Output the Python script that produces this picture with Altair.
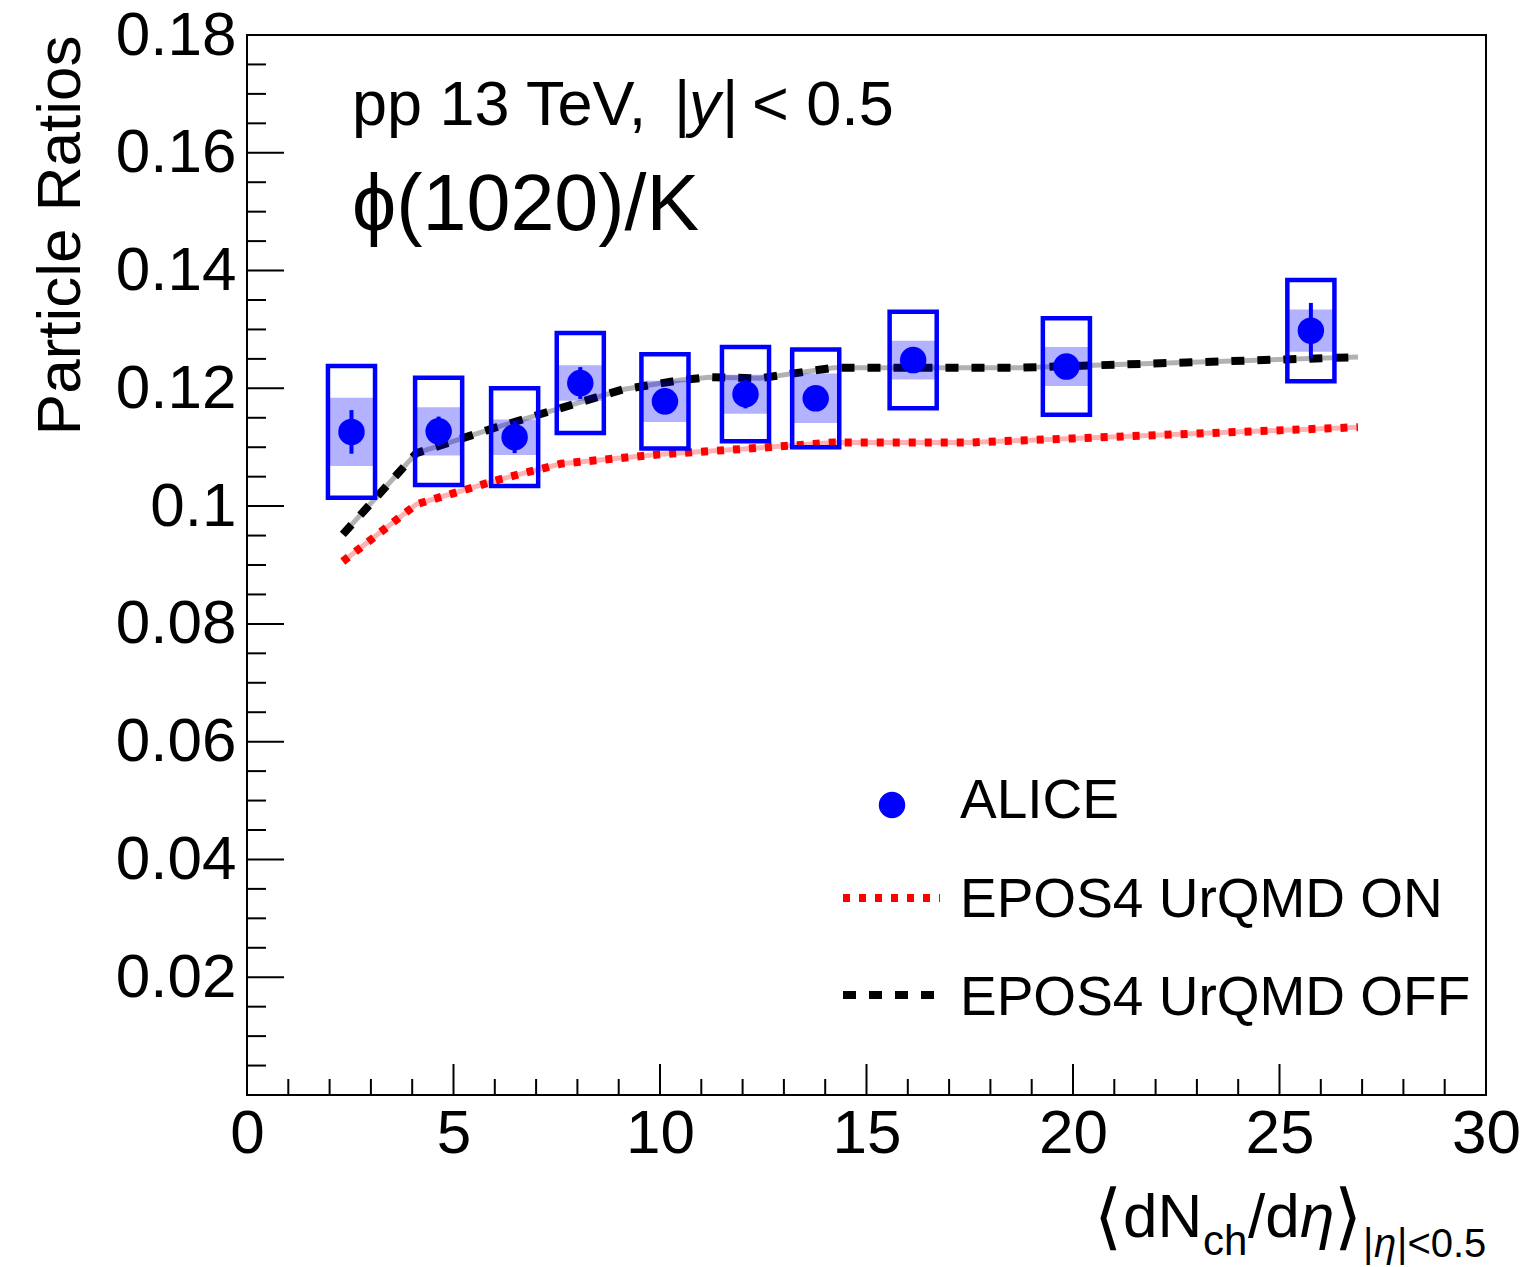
import altair as alt
import pandas as pd

# ALICE phi(1020)/K ratio in pp at 13 TeV versus charged-particle multiplicity
dndeta = [2.53, 4.64, 6.48, 8.07, 10.12, 12.07, 13.77, 16.13, 19.84, 25.76]
ratio = [0.1126, 0.1127, 0.1117, 0.1209, 0.1178, 0.1190, 0.1183, 0.1248, 0.1237, 0.1298]
stat_err = [0.0037, 0.0025, 0.0027, 0.0027, 0.0022, 0.0024, 0.0020, 0.0020, 0.0020, 0.0047]
sys_err = [0.0112, 0.0091, 0.0083, 0.0085, 0.0080, 0.0080, 0.0083, 0.0082, 0.0082, 0.0086]
sys_uncorr_err = [0.0058, 0.0041, 0.0030, 0.0030, 0.0035, 0.0033, 0.0042, 0.0033, 0.0033, 0.0036]

# EPOS4 predictions
epos_on_x = [2.32, 4.1, 6.1, 7.6, 10.0, 12.0, 14.2, 17.5, 20.0, 26.9]
epos_on = [0.0906, 0.1003, 0.1045, 0.1072, 0.1088, 0.1097, 0.1108, 0.1108, 0.1115, 0.1134]
epos_off_x = [2.32, 4.1, 6.0, 8.0, 9.1, 10.5, 11.2, 12.4, 14.2, 18.7, 20.5, 26.9]
epos_off = [0.0952, 0.1090, 0.1133, 0.1175, 0.1198, 0.1214, 0.1219, 0.1217, 0.1235, 0.1235, 0.1239, 0.1253]

# axis ticks
x_major = [0, 5, 10, 15, 20, 25, 30]
x_minor = [v for v in range(0, 31) if v % 5 != 0]
y_labels = [0.02, 0.04, 0.06, 0.08, 0.1, 0.12, 0.14, 0.16, 0.18]
y_major = [0.0] + y_labels
y_minor = [round(i * 0.005, 3) for i in range(0, 37) if i % 4 != 0]

W, H = 1239, 1060
BLUE = "#0000ff"
FONT = "Liberation Sans"

xs = alt.Scale(domain=[0, 30], nice=False, zero=False)
ys = alt.Scale(domain=[0, 0.18], nice=False, zero=False)
x_axis = alt.Axis(values=x_major, title=None, labelPadding=8, labelFlush=False,
                  labelOverlap=False)
y_axis = alt.Axis(values=y_labels, format="~g", labelPadding=11, labelFlush=False,
                  labelOverlap=False, title="Particle Ratios", titleFont=FONT,
                  titleFontSize=62, titleFontWeight="normal", titleAngle=270,
                  titleAlign="right", titleBaseline="alphabetic", titleX=-168,
                  titleY=0, titleColor="black")


def X(field, **kw):
    return alt.X(field, type="quantitative", scale=xs, axis=x_axis, **kw)


def Y(field, **kw):
    return alt.Y(field, type="quantitative", scale=ys, axis=y_axis, **kw)


half_box = 0.57
half_band = 0.545
pts = pd.DataFrame({"x": dndeta, "y": ratio, "stat": stat_err,
                    "sys": sys_err, "unc": sys_uncorr_err})
pts["x0"] = pts["x"] - half_box
pts["x1"] = pts["x"] + half_box
pts["bx0"] = pts["x"] - half_band
pts["bx1"] = pts["x"] + half_band
pts["s0"] = pts["y"] - pts["sys"]
pts["s1"] = pts["y"] + pts["sys"]
pts["u0"] = pts["y"] - pts["unc"]
pts["u1"] = pts["y"] + pts["unc"]
pts["e0"] = pts["y"] - pts["stat"]
pts["e1"] = pts["y"] + pts["stat"]

on_df = pd.DataFrame({"x": epos_on_x, "y": epos_on})
off_df = pd.DataFrame({"x": epos_off_x, "y": epos_off})

# model curves: translucent solid underlay plus dashed/dotted overlay
on_under = alt.Chart(on_df).mark_line(color="red", opacity=0.3, strokeWidth=5).encode(x=X("x"), y=Y("y"))
on_line = alt.Chart(on_df).mark_line(color="red", strokeWidth=8, strokeDash=[7, 9]).encode(x=X("x"), y=Y("y"))
off_under = alt.Chart(off_df).mark_line(color="black", opacity=0.3, strokeWidth=5).encode(x=X("x"), y=Y("y"))
off_line = alt.Chart(off_df).mark_line(color="black", strokeWidth=8, strokeDash=[13, 13]).encode(x=X("x"), y=Y("y"))

band = alt.Chart(pts).mark_rect(color=BLUE, opacity=0.3).encode(
    x=X("bx0"), x2="bx1", y=Y("u0"), y2="u1")
box = alt.Chart(pts).mark_rect(filled=False, color=BLUE, strokeWidth=4.5).encode(
    x=X("x0"), x2="x1", y=Y("s0"), y2="s1")
err = alt.Chart(pts).mark_rule(color=BLUE, strokeWidth=4).encode(
    x=X("x"), y=Y("e0"), y2="e1")
dots = alt.Chart(pts).mark_point(filled=True, color=BLUE, opacity=1, size=700).encode(
    x=X("x"), y=Y("y"))

# inward ticks
xmaj = alt.Chart(pd.DataFrame({"v": x_major})).mark_rule(color="black", strokeWidth=2).encode(
    x=X("v"), y=alt.value(H), y2=alt.value(H - 31))
xmin = alt.Chart(pd.DataFrame({"v": x_minor})).mark_rule(color="black", strokeWidth=2).encode(
    x=X("v"), y=alt.value(H), y2=alt.value(H - 16))
ymaj = alt.Chart(pd.DataFrame({"v": y_major})).mark_rule(color="black", strokeWidth=2).encode(
    y=Y("v"), x=alt.value(0), x2=alt.value(37))
ymin = alt.Chart(pd.DataFrame({"v": y_minor})).mark_rule(color="black", strokeWidth=2).encode(
    y=Y("v"), x=alt.value(0), x2=alt.value(19))

one = pd.DataFrame({"k": [0]})


def label(text, x, y, size, italic=False, align="left", font=FONT):
    return alt.Chart(one).mark_text(
        text=text, font=font, fontSize=size, align=align, baseline="alphabetic",
        color="black", fontStyle="italic" if italic else "normal",
    ).encode(x=alt.value(x), y=alt.value(y))


texts = [
    label("pp 13 TeV,", 105, 90, 63),
    label("|", 427, 90, 63),
    label("y", 442, 90, 63, italic=True),
    label("|", 475, 90, 63),
    label("< 0.5", 505, 90, 63),
    label("\u03d5(1020)/K", 105, 195, 79),
    # x-axis title
    label("\u27e8", 847, 1206, 72, font="DejaVu Sans"),
    label("dN", 876, 1202, 62),
    label("ch", 956, 1220, 42),
    label("/d", 1001, 1202, 62),
    label("\u03b7", 1053, 1202, 62, italic=True),
    label("\u27e9", 1087, 1206, 72, font="DejaVu Sans"),
    label("|", 1116, 1222, 40),
    label("\u03b7", 1127, 1222, 40, italic=True),
    label("|<0.5", 1150, 1222, 40),
    # legend
    label("ALICE", 713, 783, 55),
    label("EPOS4 UrQMD ON", 713, 882, 55),
    label("EPOS4 UrQMD OFF", 713, 980, 55),
]

leg_dot = alt.Chart(one).mark_point(filled=True, color=BLUE, opacity=1, size=700).encode(
    x=alt.value(645), y=alt.value(770))
leg_on = alt.Chart(one).mark_rule(color="red", strokeWidth=8, strokeDash=[7, 9]).encode(
    x=alt.value(596), x2=alt.value(693), y=alt.value(863))
leg_off = alt.Chart(one).mark_rule(color="black", strokeWidth=8, strokeDash=[13, 13]).encode(
    x=alt.value(596), x2=alt.value(693), y=alt.value(960))

chart = alt.layer(
    on_under, off_under, on_line, off_line, band, box, err, dots,
    xmaj, xmin, ymaj, ymin, leg_dot, leg_on, leg_off, *texts,
).properties(
    width=W, height=H,
    autosize=alt.AutoSizeParams(type="none"),
    padding={"left": 247, "top": 35, "right": 36, "bottom": 172},
    background="white",
).configure_view(
    stroke="black", strokeWidth=2,
).configure_axis(
    labelFont=FONT, labelFontSize=62, labelColor="black", grid=False,
    ticks=False, domain=False,
)

chart.save("out.html", embed_options={"renderer": "svg", "actions": False})
